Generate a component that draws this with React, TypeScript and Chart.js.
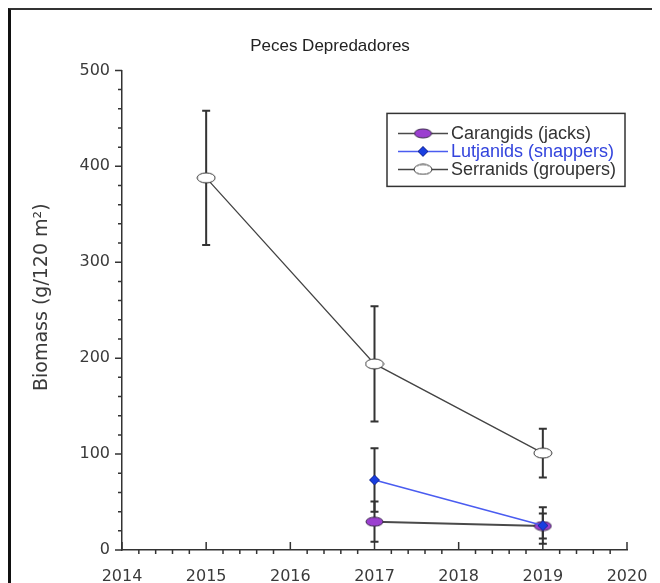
import React, { useEffect, useRef } from "react";
import { Chart, registerables } from "chart.js";

Chart.register(...registerables);

// ---------- data ----------
const chartTitle = "Peces Depredadores";
const yAxisTitle = "Biomass (g/120 m²)";
const xTickValues = [2014, 2015, 2016, 2017, 2018, 2019, 2020];
const yTickValues = [0, 100, 200, 300, 400, 500];

const seriesLabels = ["Carangids (jacks)", "Lutjanids (snappers)", "Serranids (groupers)"];

const carangidYears = [2017, 2019];
const carangidMeans = [29.5, 25];
const carangidErrors = [21, 13];

const lutjanidYears = [2017, 2019];
const lutjanidMeans = [73, 25.5];
const lutjanidErrors = [33, 19];

const serranidYears = [2015, 2017, 2019];
const serranidMeans = [388, 194, 101];
const serranidErrors = [70, 60, 25.5];

// ---------- styles ----------
const AXIS_COLOR = "#333333";
const TEXT_COLOR = "#3a3a3a";
const lineColors = ["#4a4a4a", "#4a5cf0", "#444444"];
const legendTextColors = ["#333333", "#3344dd", "#333333"];

function makeMarker(w: number, h: number, fill: string, stroke: string, shape: "ellipse" | "diamond") {
  const c = document.createElement("canvas");
  c.width = w + 2;
  c.height = h + 2;
  const ctx = c.getContext("2d")!;
  const cx = c.width / 2;
  const cy = c.height / 2;
  ctx.beginPath();
  if (shape === "ellipse") {
    ctx.ellipse(cx, cy, w / 2, h / 2, 0, 0, Math.PI * 2);
  } else {
    ctx.moveTo(cx, cy - h / 2);
    ctx.lineTo(cx + w / 2, cy);
    ctx.lineTo(cx, cy + h / 2);
    ctx.lineTo(cx - w / 2, cy);
    ctx.closePath();
  }
  ctx.fillStyle = fill;
  ctx.fill();
  ctx.lineWidth = 1;
  ctx.strokeStyle = stroke;
  ctx.stroke();
  return c;
}

function toPoints(xs: number[], ys: number[]) {
  return xs.map((x, i) => ({ x, y: ys[i] }));
}

const errorSets = [carangidErrors, lutjanidErrors, serranidErrors];

const errorBarPlugin = {
  id: "errorBars",
  beforeDatasetsDraw(chart: any) {
    const { ctx } = chart;
    const xs = chart.scales.x;
    const ys = chart.scales.y;
    ctx.save();
    ctx.strokeStyle = "#333333";
    ctx.lineWidth = 2;
    chart.data.datasets.forEach((ds: any, i: number) => {
      const errs = errorSets[i];
      ds.data.forEach((pt: any, j: number) => {
        const px = xs.getPixelForValue(pt.x);
        const top = ys.getPixelForValue(pt.y + errs[j]);
        const bot = ys.getPixelForValue(Math.max(pt.y - errs[j], 0));
        ctx.beginPath();
        ctx.moveTo(px, top);
        ctx.lineTo(px, bot);
        ctx.moveTo(px - 4, top);
        ctx.lineTo(px + 4, top);
        ctx.moveTo(px - 4, bot);
        ctx.lineTo(px + 4, bot);
        ctx.stroke();
      });
    });
    ctx.restore();
  },
};

const axisTicksPlugin = {
  id: "axisTicks",
  afterDraw(chart: any) {
    const { ctx } = chart;
    const xs = chart.scales.x;
    const ys = chart.scales.y;
    const area = chart.chartArea;
    ctx.save();
    ctx.strokeStyle = AXIS_COLOR;
    ctx.lineWidth = 1.5;
    ctx.beginPath();
    for (let v = xs.min; v <= xs.max + 1e-6; v += 0.2) {
      const px = xs.getPixelForValue(v);
      const isMajor = Math.abs(v - Math.round(v)) < 1e-6;
      if (isMajor) {
        ctx.moveTo(px, area.bottom);
        ctx.lineTo(px, area.bottom - 8);
      } else {
        ctx.moveTo(px, area.bottom);
        ctx.lineTo(px, area.bottom + 4);
      }
    }
    for (let v = ys.min; v <= ys.max + 1e-6; v += 20) {
      const py = ys.getPixelForValue(v);
      const isMajor = Math.abs(v % 100) < 1e-6;
      ctx.moveTo(area.left, py);
      ctx.lineTo(area.left - (isMajor ? 7 : 4), py);
    }
    ctx.stroke();

    // y axis title (rotated)
    ctx.fillStyle = TEXT_COLOR;
    ctx.font = "19px 'DejaVu Sans', Verdana, sans-serif";
    ctx.textAlign = "center";
    ctx.textBaseline = "middle";
    ctx.translate(area.left - 80, (area.top + area.bottom) / 2 - 13);
    ctx.rotate(-Math.PI / 2);
    ctx.fillText(yAxisTitle, 0, 0);
    ctx.restore();
  },
};

const legendBoxPlugin = {
  id: "legendBox",
  afterDraw(chart: any) {
    const { ctx } = chart;
    const area = chart.chartArea;
    const boxLeft = area.left + 265;
    const boxTop = area.top + 43;
    const boxW = 238;
    const boxH = 73;
    ctx.save();
    ctx.fillStyle = "#ffffff";
    ctx.fillRect(boxLeft, boxTop, boxW, boxH);
    ctx.strokeStyle = "#333333";
    ctx.lineWidth = 1.5;
    ctx.strokeRect(boxLeft, boxTop, boxW, boxH);
    ctx.font = "18px 'Liberation Sans', Arial, sans-serif";
    ctx.textBaseline = "middle";
    chart.data.datasets.forEach((ds: any, i: number) => {
      const y = boxTop + 20 + i * 18;
      const x0 = boxLeft + 11;
      ctx.strokeStyle = ds.borderColor;
      ctx.lineWidth = 1.5;
      ctx.beginPath();
      ctx.moveTo(x0, y);
      ctx.lineTo(x0 + 50, y);
      ctx.stroke();
      const img = ds.pointStyle as HTMLCanvasElement;
      ctx.drawImage(img, x0 + 25 - img.width / 2, y - img.height / 2);
      ctx.fillStyle = legendTextColors[i];
      ctx.fillText(ds.label, x0 + 53, y + 1);
    });
    ctx.restore();
  },
};

export default function App() {
  const canvasRef = useRef<HTMLCanvasElement | null>(null);

  useEffect(() => {
    const canvas = canvasRef.current;
    if (!canvas) return;
    const carMarker = makeMarker(17, 9, "#9b3fd0", "#3a2a4a", "ellipse");
    const lutMarker = makeMarker(10, 10, "#1a3fe0", "#1a2a90", "diamond");
    const serMarker = makeMarker(18, 10, "#ffffff", "#333333", "ellipse");

    const tickFont = { family: "'DejaVu Sans', Verdana, sans-serif", size: 16 };

    const chart = new Chart(canvas, {
      type: "line",
      data: {
        datasets: [
          {
            label: seriesLabels[0],
            data: toPoints(carangidYears, carangidMeans),
            borderColor: lineColors[0],
            borderWidth: 2,
            pointStyle: carMarker,
            order: 1,
          },
          {
            label: seriesLabels[1],
            data: toPoints(lutjanidYears, lutjanidMeans),
            borderColor: lineColors[1],
            borderWidth: 1.5,
            pointStyle: lutMarker,
            order: 0,
          },
          {
            label: seriesLabels[2],
            data: toPoints(serranidYears, serranidMeans),
            borderColor: lineColors[2],
            borderWidth: 1.3,
            pointStyle: serMarker,
            order: 2,
          },
        ] as any,
      },
      options: {
        animation: false,
        responsive: false,
        maintainAspectRatio: false,
        layout: { padding: { left: 25, right: 31, top: 0, bottom: 0 } },
        plugins: {
          legend: { display: false },
          tooltip: { enabled: false },
          title: {
            display: true,
            text: chartTitle,
            color: "#222222",
            font: { family: "'Liberation Sans', Arial, sans-serif", size: 17, weight: "normal" },
            padding: { top: 28, bottom: 14 },
          },
        },
        scales: {
          x: {
            type: "linear",
            min: 2014,
            max: 2020,
            afterBuildTicks: (scale: any) => {
              scale.ticks = xTickValues.map((v) => ({ value: v }));
            },
            afterFit: (scale: any) => {
              scale.height = 33;
            },
            ticks: {
              callback: (v: any) => String(v),
              font: tickFont,
              color: TEXT_COLOR,
              padding: 9,
              maxRotation: 0,
              autoSkip: false,
            },
            grid: { display: false },
            border: { display: true, color: AXIS_COLOR, width: 1.5 },
          },
          y: {
            type: "linear",
            min: 0,
            max: 500,
            afterBuildTicks: (scale: any) => {
              scale.ticks = yTickValues.map((v) => ({ value: v }));
            },
            afterFit: (scale: any) => {
              scale.width = 89;
            },
            ticks: {
              callback: (v: any) => String(v),
              font: tickFont,
              color: TEXT_COLOR,
              padding: 4,
            },
            grid: { display: false },
            border: { display: true, color: AXIS_COLOR, width: 1.5 },
          },
        },
      } as any,
      plugins: [errorBarPlugin, axisTicksPlugin, legendBoxPlugin],
    });
    return () => chart.destroy();
  }, []);

  return (
    <div style={{ position: "relative", width: 650, height: 575, overflow: "hidden" }}>
      <canvas ref={canvasRef} width={650} height={575} style={{ display: "block", position: "absolute", left: 0, top: 0 }} />
      <div
        style={{
          position: "absolute",
          left: 0,
          top: 0,
          width: 650,
          height: 580,
          boxSizing: "border-box",
          borderTop: "2px solid #333",
          borderLeft: "3px solid #111",
          borderRight: "3px solid #111",
          pointerEvents: "none",
        }}
      />
    </div>
  );
}
